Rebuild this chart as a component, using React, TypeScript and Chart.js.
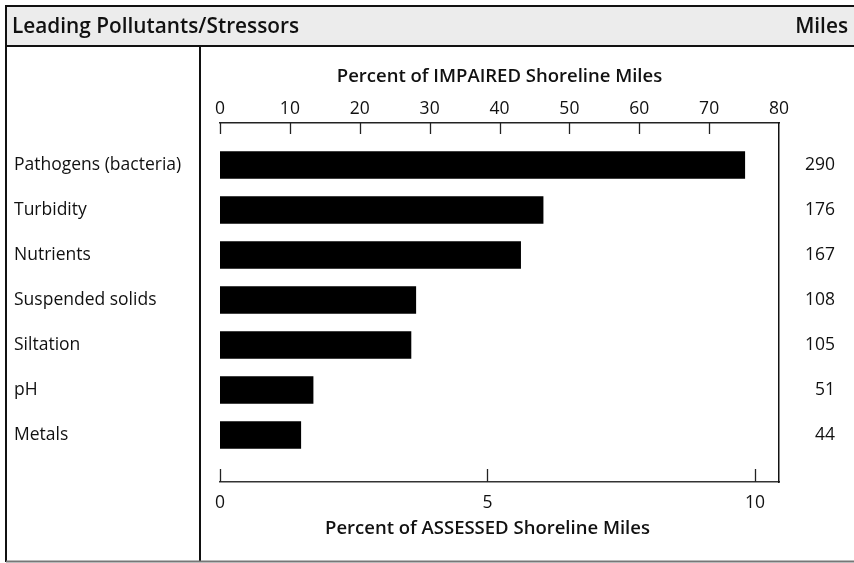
import React, { useEffect, useRef } from 'react';
import { Chart, registerables } from 'chart.js';

Chart.register(...registerables);

const categories = [
  'Pathogens (bacteria)',
  'Turbidity',
  'Nutrients',
  'Suspended solids',
  'Siltation',
  'pH',
  'Metals',
];
const assessedPercent = [9.81, 6.04, 5.62, 3.66, 3.57, 1.74, 1.51];
const milesLabels = ['290', '176', '167', '108', '105', '51', '44'];
const impairedTicks = [0, 10, 20, 30, 40, 50, 60, 70, 80];
const assessedTicks = [0, 5, 10];
const headerTitle = 'Leading Pollutants/Stressors';
const headerRight = 'Miles';
const topTitle = 'Percent of IMPAIRED Shoreline Miles';
const bottomTitle = 'Percent of ASSESSED Shoreline Miles';

const FONT = '"Open Sans", "Noto Sans", sans-serif';
const TEXT = '#111111';

const framePlugin = {
  id: 'frame',
  beforeDraw(chart: any) {
    const ctx = chart.ctx;
    const W = chart.width;
    ctx.save();
    ctx.fillStyle = '#ffffff';
    ctx.fillRect(0, 0, W, chart.height);
    ctx.fillStyle = '#ececec';
    ctx.fillRect(6, 6, W - 6, 40);
    ctx.restore();
  },
  afterDraw(chart: any) {
    const { ctx, chartArea, scales } = chart;
    const W = chart.width;
    const H = chart.height;
    ctx.save();
    // frame lines
    ctx.strokeStyle = '#111';
    ctx.lineWidth = 2;
    ctx.beginPath();
    ctx.moveTo(5, 6); ctx.lineTo(W, 6);
    ctx.moveTo(6, 5); ctx.lineTo(6, H - 1);
    ctx.moveTo(6, 46); ctx.lineTo(W, 46);
    ctx.moveTo(200, 46); ctx.lineTo(200, H - 1);
    ctx.stroke();
    ctx.strokeStyle = '#777';
    ctx.beginPath();
    ctx.moveTo(6, H - 1.5); ctx.lineTo(W, H - 1.5);
    ctx.stroke();

    // header text
    ctx.fillStyle = TEXT;
    ctx.font = `600 20.8px ${FONT}`;
    ctx.textBaseline = 'middle';
    ctx.textAlign = 'left';
    ctx.fillText(headerTitle, 12, 27);
    ctx.textAlign = 'right';
    ctx.fillText(headerRight, 848, 27);

    // inner tick marks
    const top = scales.x2;
    const bot = scales.x;
    ctx.strokeStyle = '#222';
    ctx.lineWidth = 1.3;
    ctx.beginPath();
    top.ticks.forEach((t: any, i: number) => {
      if (i === top.ticks.length - 1) return;
      const px = Math.round(top.getPixelForValue(t.value)) + 0.5;
      ctx.moveTo(px, chartArea.top);
      ctx.lineTo(px, chartArea.top + 11);
    });
    bot.ticks.forEach((t: any) => {
      const px = Math.round(bot.getPixelForValue(t.value)) + 0.5;
      ctx.moveTo(px, chartArea.bottom);
      ctx.lineTo(px, chartArea.bottom - 13);
    });
    ctx.stroke();

    // axis titles
    ctx.fillStyle = TEXT;
    ctx.font = `600 18.5px ${FONT}`;
    ctx.textAlign = 'center';
    ctx.textBaseline = 'middle';
    ctx.fillText(topTitle, (chartArea.left + chartArea.right) / 2, 77);
    ctx.fillText(bottomTitle, bot.getPixelForValue(5), 529);
    ctx.restore();
  },
};

const yMin = -0.933;
const yMax = 7.044;

export default function App() {
  const ref = useRef<HTMLCanvasElement | null>(null);

  useEffect(() => {
    if (!ref.current) return;
    const chart = new Chart(ref.current, {
      type: 'bar',
      data: {
        datasets: [
          {
            data: assessedPercent.map((v, i) => ({ x: v, y: i })),
            backgroundColor: '#000000',
            borderWidth: 0,
            barThickness: 27,
            xAxisID: 'x',
            yAxisID: 'y',
          },
        ],
      },
      plugins: [framePlugin],
      options: {
        indexAxis: 'y',
        animation: false,
        responsive: false,
        devicePixelRatio: 1,
        layout: { padding: { left: 14, right: 19, top: 0, bottom: 0 } },
        plugins: { legend: { display: false }, tooltip: { enabled: false } },
        scales: {
          x: {
            type: 'linear',
            position: 'bottom',
            min: 0,
            max: 10.45,
            offset: false,
            afterBuildTicks: (s: any) => {
              s.ticks = assessedTicks.map((v) => ({ value: v }));
            },
            afterFit: (s: any) => {
              s.height = 81;
            },
            grid: { display: false, offset: false },
            border: { display: true, color: '#333', width: 1.5 },
            ticks: {
              padding: 3,
              color: TEXT,
              font: { family: FONT, size: 17.5 },
            },
          },
          x2: {
            type: 'linear',
            position: 'top',
            min: 0,
            max: 80,
            offset: false,
            afterBuildTicks: (s: any) => {
              s.ticks = impairedTicks.map((v) => ({ value: v }));
            },
            afterFit: (s: any) => {
              s.height = 123;
            },
            grid: { display: false, offset: false },
            border: { display: true, color: '#222', width: 1.5 },
            ticks: {
              padding: -5,
              color: TEXT,
              font: { family: FONT, size: 17.5 },
            },
          },
          y: {
            type: 'linear',
            position: 'left',
            reverse: true,
            min: yMin,
            max: yMax,
            offset: false,
            afterBuildTicks: (s: any) => {
              s.ticks = categories.map((_, i) => ({ value: i }));
            },
            afterFit: (s: any) => {
              s.width = 206;
            },
            grid: { display: false, offset: false },
            border: { display: false },
            ticks: {
              crossAlign: 'far',
              color: TEXT,
              font: { family: FONT, size: 17.5 },
              callback: (v: any) => categories[v as number] ?? '',
            },
          },
          y2: {
            type: 'linear',
            position: 'right',
            reverse: true,
            min: yMin,
            max: yMax,
            offset: false,
            afterBuildTicks: (s: any) => {
              s.ticks = milesLabels.map((_, i) => ({ value: i }));
            },
            afterFit: (s: any) => {
              s.width = 56;
            },
            grid: { display: false, offset: false },
            border: { display: true, color: '#111', width: 1.5 },
            ticks: {
              crossAlign: 'far',
              color: TEXT,
              font: { family: FONT, size: 17.5 },
              callback: (v: any) => milesLabels[v as number] ?? '',
            },
          },
        },
      } as any,
    });
    return () => chart.destroy();
  }, []);

  return (
    <div style={{ position: 'absolute', left: 0, top: 0, width: 854, height: 563 }}>
      <canvas ref={ref} width={854} height={563} />
    </div>
  );
}
